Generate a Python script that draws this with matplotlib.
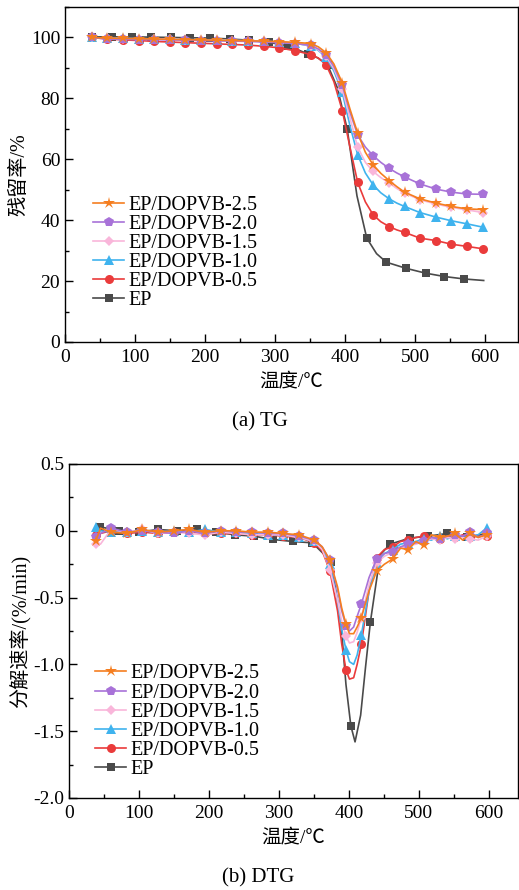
import numpy as np
import matplotlib.pyplot as plt
from matplotlib.ticker import MultipleLocator, FuncFormatter

plt.rcParams['font.family'] = ['Liberation Serif', 'Noto Sans CJK SC']
plt.rcParams['axes.unicode_minus'] = False

labels = ['EP', 'EP/DOPVB-0.5', 'EP/DOPVB-1.0', 'EP/DOPVB-1.5', 'EP/DOPVB-2.0', 'EP/DOPVB-2.5']

# TG data (temperature in C, residue in %)
t_tg = [38, 60, 83, 105, 127, 150, 172, 194, 217, 239, 261, 284, 306, 329, 351, 362,
        373, 384, 396, 407, 418, 429, 440, 451, 463, 474, 485, 507, 530, 552, 574, 597]
tg_25 = [100.0, 99.8, 99.7, 99.6, 99.5, 99.4, 99.3, 99.2, 99.1, 99.0, 98.9, 98.8, 98.6, 98.4, 98.0, 96.9,
         95.0, 91.3, 85.1, 76.5, 68.6, 62.3, 58.2, 55.4, 53.0, 51.0, 49.2, 47.0, 45.6, 44.5, 43.7, 43.5]
tg_20 = [100.0, 99.5, 99.4, 99.3, 99.3, 99.2, 99.1, 99.0, 98.9, 98.8, 98.7, 98.5, 98.3, 98.0, 97.4, 96.2,
         94.3, 90.5, 84.3, 75.5, 68.0, 64.0, 61.2, 59.0, 57.0, 55.5, 54.2, 51.9, 50.2, 49.2, 48.6, 48.5]
tg_15 = [100.0, 99.7, 99.6, 99.6, 99.5, 99.4, 99.3, 99.2, 99.1, 99.0, 98.9, 98.7, 98.5, 98.1, 97.3, 95.9,
         93.8, 89.8, 83.0, 73.5, 64.0, 59.0, 56.0, 54.0, 52.2, 50.4, 48.9, 46.7, 45.3, 44.2, 43.4, 42.5]
tg_10 = [100.0, 99.8, 99.7, 99.6, 99.5, 99.4, 99.3, 99.2, 99.1, 99.0, 98.9, 98.7, 98.5, 98.1, 97.2, 95.7,
         93.5, 89.0, 82.0, 71.0, 61.5, 55.5, 51.6, 49.0, 47.0, 45.6, 44.5, 42.5, 41.0, 39.8, 38.8, 37.7]
tg_05 = [100.0, 99.5, 99.2, 99.0, 98.7, 98.5, 98.3, 98.1, 97.9, 97.7, 97.5, 97.1, 96.6, 95.6, 94.4, 93.2,
         91.0, 85.5, 76.0, 64.0, 52.4, 46.0, 41.8, 39.5, 37.9, 36.8, 36.0, 34.1, 33.3, 32.1, 31.4, 30.6]
mk_tg = list(range(15)) + [16, 18, 20, 22, 24, 26, 27, 28, 29, 30, 31]

t_tg_ep = [39, 67, 95, 123, 151, 179, 207, 235, 263, 291, 319, 347, 361, 375, 389, 403,
           417, 431, 445, 459, 487, 515, 542, 570, 598]
tg_ep = [100.2, 100.2, 100.2, 100.1, 100.0, 99.9, 99.8, 99.5, 99.1, 98.4, 97.2, 94.6, 93.3, 91.0, 83.5, 70.0,
         48.0, 34.1, 29.0, 26.2, 24.2, 22.6, 21.5, 20.7, 20.2]
mk_tg_ep = list(range(12)) + [13, 15, 17, 19, 20, 21, 22, 23]

# DTG data (%/min)
t_dtg = [38, 45, 60, 83, 105, 127, 150, 172, 194, 217, 239, 261, 284, 306, 329, 351, 362, 373, 384, 390, 396,
         401, 407, 412, 418, 429, 440, 451, 463, 474, 485, 496, 507, 518, 530, 541, 552, 563, 574, 585, 597]
dtg_25 = [-0.08, 0.02, -0.01, -0.02, 0.01, -0.01, 0.0, 0.01, -0.01, 0.0, 0.0, -0.01, -0.01, -0.02, -0.03, -0.07,
          -0.12, -0.22, -0.42, -0.58, -0.70, -0.77, -0.77, -0.72, -0.65, -0.45, -0.30, -0.25, -0.21, -0.13, -0.14,
          -0.08, -0.11, -0.03, -0.05, -0.04, -0.02, -0.07, -0.02, -0.05, -0.03]
dtg_20 = [-0.05, -0.02, 0.02, -0.01, 0.0, -0.01, -0.02, 0.0, -0.02, 0.0, -0.01, -0.01, -0.02, -0.02, -0.04, -0.07,
          -0.12, -0.22, -0.44, -0.60, -0.71, -0.75, -0.72, -0.64, -0.55, -0.35, -0.21, -0.17, -0.155, -0.12, -0.10,
          -0.09, -0.08, -0.05, -0.06, -0.04, -0.03, -0.04, -0.01, -0.05, -0.02]
dtg_15 = [-0.10, -0.10, 0.01, -0.01, 0.01, -0.02, -0.01, -0.02, -0.03, -0.01, -0.02, -0.03, -0.03, -0.03, -0.05, -0.08,
          -0.14, -0.29, -0.52, -0.68, -0.79, -0.84, -0.83, -0.76, -0.65, -0.40, -0.24, -0.19, -0.16, -0.13, -0.11,
          -0.10, -0.08, -0.06, -0.07, -0.05, -0.06, -0.05, -0.06, -0.07, -0.04]
dtg_10 = [0.03, 0.0, -0.01, -0.01, 0.0, -0.01, 0.0, -0.01, 0.01, -0.01, -0.01, -0.02, -0.03, -0.03, -0.05, -0.08,
          -0.13, -0.25, -0.52, -0.74, -0.89, -0.98, -1.00, -0.93, -0.78, -0.45, -0.24, -0.17, -0.14, -0.10, -0.09,
          -0.08, -0.06, -0.07, -0.04, -0.06, -0.04, -0.05, -0.04, -0.03, 0.02]
dtg_05 = [-0.03, -0.02, 0.0, -0.02, -0.01, -0.02, -0.01, -0.01, -0.02, -0.02, -0.02, -0.03, -0.03, -0.04, -0.05, -0.09,
          -0.15, -0.30, -0.60, -0.85, -1.04, -1.11, -1.10, -1.00, -0.85, -0.45, -0.20, -0.14, -0.12, -0.08, -0.07,
          -0.05, -0.04, -0.05, -0.06, -0.04, -0.05, -0.03, -0.05, -0.04, -0.04]
mk_dtg = [0] + list(range(2, 16)) + [17, 20, 24, 26, 28, 30, 32, 34, 36, 38, 40]

t_dtg_ep = [44, 72, 100, 127, 155, 183, 210, 237, 264, 292, 320, 348, 375, 389, 396, 403, 409, 417, 424, 431,
            445, 459, 487, 514, 541, 569, 597]
dtg_ep = [0.03, 0.0, -0.01, 0.01, 0.0, 0.01, -0.01, -0.03, -0.04, -0.065, -0.08, -0.09, -0.23, -0.70, -1.15, -1.46,
          -1.58, -1.38, -1.02, -0.68, -0.18, -0.10, -0.055, -0.04, -0.02, -0.05, -0.02]
mk_dtg_ep = list(range(13)) + [15, 19, 21, 22, 23, 24, 25]

colors = ['#4a4a4a', '#ea3b3b', '#3fb3ee', '#f9b6da', '#a872d8', '#f57e20']
markers = ['s', 'o', '^', 'D', 'p', '*']
msizes = [6, 6.5, 6.5, 5, 7, 9]

fig = plt.figure(figsize=(5.19, 8.9), dpi=100)
ax1 = fig.add_axes([65 / 519, 1 - 342 / 890, 453 / 519, 335 / 890])
ax2 = fig.add_axes([69 / 519, 1 - 798 / 890, 449 / 519, 334 / 890])

tg_series = [(t_tg_ep, tg_ep, mk_tg_ep), (t_tg, tg_05, mk_tg), (t_tg, tg_10, mk_tg),
             (t_tg, tg_15, mk_tg), (t_tg, tg_20, mk_tg), (t_tg, tg_25, mk_tg)]
dtg_series = [(t_dtg_ep, dtg_ep, mk_dtg_ep), (t_dtg, dtg_05, mk_dtg), (t_dtg, dtg_10, mk_dtg),
              (t_dtg, dtg_15, mk_dtg), (t_dtg, dtg_20, mk_dtg), (t_dtg, dtg_25, mk_dtg)]

for ax, series in [(ax1, tg_series), (ax2, dtg_series)]:
    for i, (t, v, mk) in enumerate(series):
        ax.plot(t, v, color=colors[i], marker=markers[i], markersize=msizes[i], markevery=mk,
                markeredgewidth=0, linewidth=1.2, label=labels[i])
    ax.tick_params(which='both', direction='in', labelsize=14, top=False, right=False)
    ax.tick_params(which='major', length=6, width=1)
    ax.tick_params(which='minor', length=3, width=1)
    ax.tick_params(axis='x', pad=5)
    ax.xaxis.set_major_locator(MultipleLocator(100))
    ax.xaxis.set_minor_locator(MultipleLocator(50))
    for s in ax.spines.values():
        s.set_linewidth(1.0)

ax1.set_xlim(0, 647)
ax1.set_ylim(0, 110)
ax1.yaxis.set_major_locator(MultipleLocator(20))
ax1.yaxis.set_minor_locator(MultipleLocator(10))
ax1.set_xlabel('温度/℃', fontsize=14, labelpad=5)
ax1.set_ylabel('残留率/%', fontsize=14.5, labelpad=1)

ax2.set_xlim(0, 642)
ax2.set_ylim(-2.0, 0.5)
ax2.yaxis.set_major_locator(MultipleLocator(0.5))
ax2.yaxis.set_minor_locator(MultipleLocator(0.25))
ax2.yaxis.set_major_formatter(FuncFormatter(lambda v, p: '0' if abs(v) < 1e-9 else '%.1f' % v))
ax2.set_xlabel('温度/℃', fontsize=14, labelpad=5)
ax2.set_ylabel('分解速率/(%/min)', fontsize=14.5, labelpad=2)

for ax, anchor in [(ax1, (0.062, 0.437)), (ax2, (0.058, 0.40))]:
    h, l = ax.get_legend_handles_labels()
    ax.legend(h[::-1], l[::-1], loc='upper left', bbox_to_anchor=anchor, frameon=False,
              fontsize=14.5, handlelength=1.55, handletextpad=0.2, labelspacing=0.0,
              borderpad=0, borderaxespad=0)

fig.text(260 / 519, 1 - 422 / 890, '(a) TG', ha='center', va='center', fontsize=15)
fig.text(258 / 519, 1 - 878 / 890, '(b) DTG', ha='center', va='center', fontsize=15)

fig.savefig('out.png', dpi=100)
